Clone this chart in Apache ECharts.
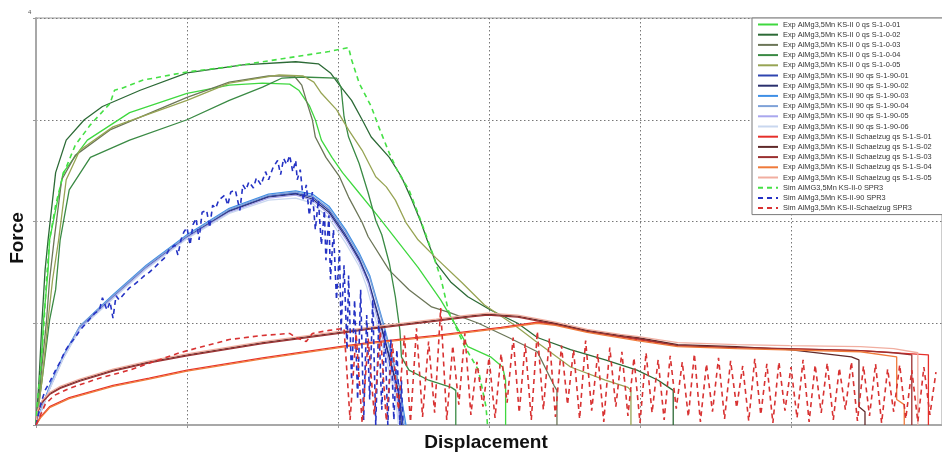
<!DOCTYPE html>
<html>
<head>
<meta charset="utf-8">
<script src="https://cdn.jsdelivr.net/npm/echarts@6/dist/echarts.min.js"></script>
<style>
  html, body { margin: 0; padding: 0; background: #fff; }
  #chart { width: 942px; height: 454px; }
</style>
</head>
<body>
<div id="chart"></div>
<script>
// Force-displacement curves: AlMg3,5Mn KS-II specimens (experiment and simulation)

// Axis ranges and tick spacing
const xRange = [0, 6];
const yRange = [0, 4];
const tickStep = 1;

// Experiments, 0 deg (qs)
const exp0_01 = [[0,0],[0.03,0.44],[0.05,1.03],[0.08,1.52],[0.09,1.82],[0.18,2.48],[0.34,2.80],[0.62,3.07],[1.00,3.26],[1.28,3.34],[1.50,3.36],[1.68,3.35],[1.74,3.29],[1.81,3.14],[1.85,3.00],[1.89,2.80],[1.96,2.63],[2.03,2.48],[2.14,2.28],[2.25,2.08],[2.35,1.89],[2.53,1.55],[2.68,1.23],[2.80,0.93],[2.86,0.77],[3.01,0.67],[3.09,0.57],[3.11,0.44],[3.11,0]];
const exp0_02 = [[0,0],[0.02,0.44],[0.04,1.03],[0.06,1.52],[0.08,1.82],[0.13,2.48],[0.20,2.80],[0.32,3.00],[0.44,3.13],[0.69,3.29],[1.00,3.46],[1.37,3.54],[1.72,3.57],[1.87,3.55],[1.95,3.46],[2.01,3.34],[2.09,3.19],[2.16,3.00],[2.22,2.83],[2.34,2.63],[2.42,2.44],[2.49,2.21],[2.55,1.99],[2.59,1.82],[2.65,1.59],[2.75,1.40],[2.86,1.26],[3.01,1.13],[3.19,1.00],[3.32,0.86],[3.54,0.74],[3.77,0.64],[3.98,0.54],[4.12,0.44],[4.20,0.36],[4.22,0.34],[4.22,0]];
const exp0_03 = [[0,0],[0.03,0.44],[0.07,1.03],[0.09,1.43],[0.12,1.82],[0.17,2.41],[0.26,2.65],[0.49,2.90],[1.00,3.22],[1.28,3.37],[1.54,3.43],[1.71,3.43],[1.76,3.34],[1.79,3.19],[1.83,3.00],[1.85,2.83],[1.92,2.63],[2.01,2.44],[2.07,2.24],[2.16,1.99],[2.20,1.85],[2.34,1.52],[2.47,1.33],[2.62,1.16],[2.75,1.10],[2.93,1.00],[3.13,0.86],[3.32,0.72],[3.43,0.39],[3.45,0.34],[3.45,0]];
const exp0_04 = [[0,0],[0.04,0.44],[0.09,1.03],[0.13,1.33],[0.16,1.82],[0.22,2.31],[0.36,2.63],[0.62,2.80],[1.00,3.00],[1.28,3.19],[1.50,3.32],[1.63,3.41],[1.76,3.42],[1.99,3.41],[2.02,3.32],[2.04,3.03],[2.07,2.83],[2.14,2.57],[2.20,2.28],[2.25,2.01],[2.29,1.87],[2.34,1.59],[2.38,1.26],[2.41,0.93],[2.42,0.67],[2.47,0.54],[2.60,0.44],[2.75,0.37],[2.78,0.34],[2.78,0]];
const exp0_05 = [[0,0],[0.04,0.44],[0.08,1.03],[0.11,1.43],[0.15,1.82],[0.20,2.41],[0.29,2.70],[0.51,2.93],[1.00,3.19],[1.28,3.36],[1.61,3.44],[1.77,3.43],[1.84,3.37],[1.89,3.26],[1.99,3.10],[2.07,2.90],[2.16,2.70],[2.25,2.44],[2.32,2.34],[2.38,2.21],[2.45,1.99],[2.53,1.82],[2.65,1.64],[2.82,1.40],[2.97,1.18],[3.17,0.98],[3.32,0.81],[3.54,0.57],[3.77,0.44],[3.92,0.37],[3.94,0.34],[3.94,0]];

// Experiments, 90 deg (qs)
const exp90_01 = [[0,0],[0.03,0.13],[0.09,0.37],[0.18,0.67],[0.29,0.96],[0.51,1.26],[0.73,1.55],[1.00,1.85],[1.28,2.11],[1.54,2.25],[1.72,2.28],[1.83,2.24],[1.94,2.11],[2.05,1.87],[2.14,1.64],[2.20,1.43],[2.29,0.96],[2.35,0.62],[2.40,0.34],[2.43,0]];
const exp90_02 = [[0,0],[0.03,0.12],[0.09,0.36],[0.18,0.66],[0.29,0.95],[0.51,1.25],[0.73,1.54],[1.00,1.84],[1.28,2.10],[1.54,2.24],[1.72,2.27],[1.83,2.22],[1.94,2.09],[2.05,1.85],[2.14,1.62],[2.20,1.41],[2.29,0.94],[2.35,0.60],[2.40,0.32],[2.42,0]];
const exp90_03 = [[0,0],[0.03,0.14],[0.09,0.38],[0.18,0.68],[0.29,0.97],[0.51,1.28],[0.73,1.57],[1.00,1.87],[1.28,2.13],[1.54,2.27],[1.72,2.30],[1.83,2.27],[1.94,2.15],[2.05,1.92],[2.14,1.69],[2.21,1.47],[2.30,1.00],[2.36,0.66],[2.41,0.36],[2.45,0]];
const exp90_04 = [[0,0],[0.03,0.13],[0.09,0.37],[0.18,0.67],[0.29,0.97],[0.51,1.27],[0.73,1.56],[1.00,1.86],[1.28,2.12],[1.54,2.26],[1.72,2.29],[1.83,2.25],[1.94,2.13],[2.05,1.90],[2.14,1.67],[2.21,1.45],[2.30,0.98],[2.36,0.64],[2.41,0.35],[2.44,0]];
const exp90_05 = [[0,0],[0.03,0.12],[0.09,0.36],[0.18,0.66],[0.29,0.95],[0.51,1.25],[0.73,1.54],[1.00,1.84],[1.28,2.09],[1.54,2.23],[1.72,2.26],[1.83,2.21],[1.94,2.07],[2.05,1.83],[2.14,1.60],[2.20,1.39],[2.28,0.94],[2.34,0.60],[2.39,0.32],[2.41,0]];
const exp90_06 = [[0,0],[0.03,0.12],[0.09,0.35],[0.18,0.65],[0.29,0.94],[0.51,1.24],[0.73,1.53],[1.00,1.83],[1.28,2.08],[1.54,2.21],[1.72,2.23],[1.83,2.18],[1.94,2.03],[2.05,1.79],[2.14,1.56],[2.19,1.36],[2.27,0.92],[2.33,0.58],[2.38,0.30],[2.40,0]];

// Experiments, Schaelzug (qs)
const expS_01 = [[0,0],[0.03,0.08],[0.09,0.18],[0.22,0.27],[0.51,0.39],[0.75,0.46],[1.00,0.54],[1.50,0.66],[2.01,0.77],[2.20,0.81],[2.65,0.88],[3.08,0.96],[3.32,1.01],[3.44,0.99],[3.65,0.92],[3.98,0.84],[4.25,0.78],[4.64,0.76],[5.46,0.73],[5.91,0.69],[5.91,0]];
const expS_02 = [[0,0],[0.01,0.13],[0.04,0.23],[0.09,0.31],[0.16,0.37],[0.29,0.44],[0.51,0.54],[0.75,0.62],[1.00,0.69],[1.50,0.81],[2.01,0.91],[2.20,0.95],[2.65,1.03],[2.86,1.07],[2.99,1.09],[3.19,1.07],[3.44,1.00],[3.65,0.93],[3.87,0.88],[3.98,0.86],[4.25,0.79],[4.64,0.77],[4.99,0.74],[5.40,0.67],[5.45,0.64],[5.45,0.18],[5.49,0.13],[5.49,0]];
const expS_03 = [[0,0],[0.01,0.12],[0.04,0.22],[0.09,0.30],[0.16,0.36],[0.29,0.43],[0.51,0.53],[0.75,0.61],[1.00,0.68],[1.50,0.80],[2.01,0.90],[2.20,0.94],[2.65,1.02],[2.86,1.06],[2.99,1.08],[3.19,1.06],[3.44,0.99],[3.65,0.92],[3.87,0.87],[3.98,0.85],[4.25,0.78],[4.64,0.76],[4.99,0.75],[5.46,0.73],[5.68,0.71],[5.80,0.69],[5.80,0]];
const expS_04 = [[0,0],[0.03,0.07],[0.09,0.17],[0.22,0.26],[0.51,0.38],[0.75,0.45],[1.00,0.53],[1.50,0.65],[2.01,0.76],[2.20,0.80],[2.65,0.87],[3.08,0.95],[3.32,1.00],[3.44,0.98],[3.65,0.91],[3.98,0.83],[4.25,0.77],[4.64,0.75],[5.46,0.72],[5.70,0.67],[5.70,0.25],[5.75,0.20],[5.75,0]];
const expS_05 = [[0,0],[0.01,0.14],[0.04,0.24],[0.09,0.32],[0.16,0.38],[0.29,0.45],[0.51,0.55],[0.75,0.63],[1.00,0.70],[1.50,0.82],[2.01,0.92],[2.20,0.96],[2.65,1.04],[2.86,1.08],[2.99,1.10],[3.19,1.08],[3.44,1.01],[3.65,0.94],[3.87,0.89],[3.98,0.87],[4.25,0.81],[4.64,0.79],[4.99,0.78],[5.46,0.77],[5.68,0.75],[5.84,0.71],[5.84,0]];

// Simulations (SPR3)
const sim0 = [[0,0],[0.01,0.25],[0.03,0.54],[0.05,0.93],[0.07,1.43],[0.09,1.82],[0.13,2.16],[0.18,2.46],[0.26,2.75],[0.36,2.95],[0.49,3.16],[0.52,3.29],[0.57,3.31],[0.71,3.39],[1.00,3.47],[1.28,3.52],[1.72,3.62],[1.94,3.67],[2.07,3.71],[2.09,3.59],[2.14,3.36],[2.22,3.13],[2.27,2.93],[2.34,2.67],[2.40,2.48],[2.47,2.31],[2.53,2.08],[2.57,1.92],[2.63,1.67],[2.68,1.45],[2.73,1.13],[2.84,0.77],[2.93,0.54],[2.98,0.18],[2.99,0]];
const sim90 = [[0,0],[0.03,0.20],[0.06,0.34],[0.09,0.42],[0.13,0.54],[0.16,0.62],[0.19,0.72],[0.22,0.79],[0.26,0.86],[0.29,0.93],[0.32,0.98],[0.36,1.05],[0.39,1.10],[0.42,1.13],[0.44,1.25],[0.47,1.13],[0.49,1.21],[0.51,1.05],[0.53,1.27],[0.55,1.23],[0.59,1.30],[0.62,1.35],[0.65,1.38],[0.69,1.43],[0.72,1.47],[0.75,1.50],[0.78,1.54],[0.82,1.60],[0.85,1.64],[0.88,1.72],[0.92,1.77],[0.94,1.67],[0.96,1.82],[0.98,1.90],[1.00,1.94],[1.02,1.77],[1.04,1.97],[1.06,2.03],[1.08,1.82],[1.10,2.09],[1.13,2.11],[1.15,1.94],[1.17,2.16],[1.19,2.13],[1.21,2.21],[1.25,2.26],[1.27,2.16],[1.29,2.29],[1.32,2.31],[1.35,2.11],[1.37,2.36],[1.39,2.31],[1.41,2.39],[1.44,2.33],[1.46,2.43],[1.49,2.36],[1.52,2.49],[1.54,2.41],[1.57,2.53],[1.60,2.60],[1.62,2.46],[1.64,2.62],[1.66,2.56],[1.68,2.65],[1.70,2.49],[1.72,2.60],[1.73,2.41],[1.75,2.51],[1.77,2.21],[1.79,2.36],[1.81,2.06],[1.83,2.29],[1.85,1.92],[1.87,2.21],[1.89,1.77],[1.91,2.11],[1.92,1.62],[1.94,2.06],[1.95,1.43],[1.97,1.92],[1.99,1.23],[2.01,1.72],[2.02,0.93],[2.04,1.57],[2.06,0.74],[2.07,1.47],[2.09,0.44],[2.11,1.23],[2.13,0.25],[2.15,1.33],[2.17,0.05],[2.19,1.08],[2.21,0.25],[2.23,1.23],[2.25,0],[2.27,1.03],[2.29,0.15],[2.31,0.93],[2.33,0],[2.35,0.84],[2.37,0.05],[2.39,0.74],[2.41,0],[2.42,0.44],[2.43,0]];
const simS = [[0,0],[0.03,0.10],[0.06,0.20],[0.12,0.29],[0.22,0.36],[0.42,0.46],[0.62,0.54],[0.95,0.71],[1.28,0.84],[1.50,0.88],[1.68,0.90],[1.72,0.86],[1.79,0.82],[1.83,0.90],[1.94,0.93],[2.04,0.95],
  [2.08,0.05],[2.12,0.90],[2.16,0.02],[2.20,0.85],[2.24,0.10],[2.28,0.92],[2.32,0.04],[2.36,0.80],[2.40,0.15],[2.44,0.88],[2.48,0.03],[2.52,0.95],[2.56,0.08],[2.60,0.82],[2.64,0.12],[2.68,1.15],[2.72,0.05],[2.76,0.78],[2.80,0.20],[2.84,0.90],[2.88,0.10],[2.92,0.62],[2.96,0.18],[3.00,0.66],[3.04,0.07],[3.08,0.70],[3.12,0.22],[3.16,0.86],[3.20,0.12],[3.24,0.80],[3.28,0.05],[3.32,0.92],[3.36,0.15],[3.40,0.85],[3.44,0.08],[3.48,0.78],[3.52,0.20],[3.56,0.74],[3.60,0.06],[3.64,0.83],[3.68,0.14],[3.72,0.70],[3.76,0.03],[3.80,0.76],[3.84,0.18],[3.88,0.72],[3.92,0.09],[3.96,0.66],[4.00,0.02],[4.04,0.71],[4.08,0.12],[4.12,0.64],[4.16,0.05],[4.20,0.68],[4.24,0.16],[4.28,0.62],[4.32,0.08],[4.36,0.70],[4.40,0.03],[4.44,0.60],[4.48,0.13],[4.52,0.66],[4.56,0.06],[4.60,0.63],[4.64,0.17],[4.68,0.58],[4.72,0.04],[4.76,0.65],[4.80,0.10],[4.84,0.60],[4.88,0.02],[4.92,0.62],[4.96,0.14],[5.00,0.57],[5.04,0.07],[5.08,0.64],[5.12,0.03],[5.16,0.59],[5.20,0.12],[5.24,0.61],[5.28,0.05],[5.32,0.56],[5.36,0.15],[5.40,0.62],[5.44,0.04],[5.48,0.58],[5.52,0.09],[5.56,0.60],[5.60,0.02],[5.64,0.55],[5.68,0.13],[5.72,0.59],[5.76,0.06],[5.80,0.54],[5.84,0.03],[5.88,0.57],[5.92,0.10],[5.96,0.52]];

// Series names as shown in the legend
const names = [
  'Exp AlMg3,5Mn KS-II 0 qs S-1-0-01',
  'Exp AlMg3,5Mn KS-II 0 qs S-1-0-02',
  'Exp AlMg3,5Mn KS-II 0 qs S-1-0-03',
  'Exp AlMg3,5Mn KS-II 0 qs S-1-0-04',
  'Exp AlMg3,5Mn KS-II 0 qs S-1-0-05',
  'Exp AlMg3,5Mn KS-II 90 qs S-1-90-01',
  'Exp AlMg3,5Mn KS-II 90 qs S-1-90-02',
  'Exp AlMg3,5Mn KS-II 90 qs S-1-90-03',
  'Exp AlMg3,5Mn KS-II 90 qs S-1-90-04',
  'Exp AlMg3,5Mn KS-II 90 qs S-1-90-05',
  'Exp AlMg3,5Mn KS-II 90 qs S-1-90-06',
  'Exp AlMg3,5Mn KS-II Schaelzug qs S-1-S-01',
  'Exp AlMg3,5Mn KS-II Schaelzug qs S-1-S-02',
  'Exp AlMg3,5Mn KS-II Schaelzug qs S-1-S-03',
  'Exp AlMg3,5Mn KS-II Schaelzug qs S-1-S-04',
  'Exp AlMg3,5Mn KS-II Schaelzug qs S-1-S-05',
  'Sim AlMG3,5Mn KS-II-0 SPR3',
  'Sim AlMg3,5Mn KS-II-90 SPR3',
  'Sim AlMg3,5Mn KS-II-Schaelzug SPR3'
];
const datasets = [exp0_01, exp0_02, exp0_03, exp0_04, exp0_05,
  exp90_01, exp90_02, exp90_03, exp90_04, exp90_05, exp90_06,
  expS_01, expS_02, expS_03, expS_04, expS_05,
  sim0, sim90, simS];
const colors = ['#3fd83f', '#2c6a36', '#6c7658', '#3a8a44', '#97a454',
  '#2f45b0', '#2a306e', '#3f8fe6', '#7fa2d8', '#a9a7ee', '#c9d7ef',
  '#e6302b', '#5f2a2a', '#9a3030', '#ef7a3a', '#f1aea0',
  '#45e045', '#2432c4', '#d83232'];
const dashed = [false, false, false, false, false,
  false, false, false, false, false, false,
  false, false, false, false, false,
  true, true, true];

const series = names.map((name, i) => ({
  type: 'line',
  name: name,
  data: datasets[i],
  symbol: 'none',
  showSymbol: false,
  animation: false,
  clip: true,
  itemStyle: { color: colors[i] },
  lineStyle: {
    color: colors[i],
    width: dashed[i] ? 1.6 : 1.3,
    type: dashed[i] ? [5, 4] : 'solid'
  },
  z: dashed[i] ? 3 : 2
}));

const chart = echarts.init(document.getElementById('chart'), null, { renderer: 'canvas' });
chart.setOption({
  backgroundColor: '#fff',
  animation: false,
  grid: {
    left: 36, top: 18, right: -4, bottom: 29,
    show: true, borderColor: '#9a9a9a', borderWidth: 1
  },
  xAxis: {
    type: 'value', min: xRange[0], max: xRange[1], interval: tickStep,
    axisLine: { onZero: false, lineStyle: { color: '#a8a8a8', width: 2 } },
    axisTick: { show: true, length: 3, lineStyle: { color: '#999' } },
    axisLabel: { show: false },
    splitLine: { show: true, lineStyle: { color: '#777', type: [1.5, 2.5], width: 1 } }
  },
  yAxis: {
    type: 'value', min: yRange[0], max: yRange[1], interval: tickStep,
    axisLine: { show: true, onZero: false, lineStyle: { color: '#a8a8a8', width: 2 } },
    axisTick: { show: true, length: 3, lineStyle: { color: '#999' } },
    axisLabel: { show: false },
    splitLine: { show: true, lineStyle: { color: '#777', type: [1.5, 2.5], width: 1 } }
  },
  legend: {
    data: names,
    orient: 'vertical',
    left: 752, top: 18,
    padding: [3, 40, 3, 5],
    itemWidth: 20, itemHeight: 8, itemGap: 3.2,
    selectedMode: false,
    itemStyle: { opacity: 0 },
    backgroundColor: '#fff',
    borderColor: '#7a7a7a', borderWidth: 1, borderRadius: 0,
    textStyle: { fontSize: 7.4, color: '#333', fontFamily: 'Liberation Sans, Arial, sans-serif', padding: [0, 0, 0, 0] }
  },
  graphic: [
    { type: 'text', left: 28, top: 9, style: { text: String(yRange[1]), fontSize: 6, fill: '#555', fontFamily: 'Liberation Sans, Arial, sans-serif' } },
    { type: 'text', x: 486, y: 443, style: { text: 'Displacement', fontSize: 19, fontWeight: 'bold', fill: '#111', align: 'center', verticalAlign: 'middle', fontFamily: 'Liberation Sans, Arial, sans-serif' } },
    { type: 'text', x: 18, y: 238, rotation: Math.PI / 2, style: { text: 'Force', fontSize: 19, fontWeight: 'bold', fill: '#111', align: 'center', verticalAlign: 'middle', fontFamily: 'Liberation Sans, Arial, sans-serif' } }
  ],
  series: series
});
</script>
</body>
</html>
